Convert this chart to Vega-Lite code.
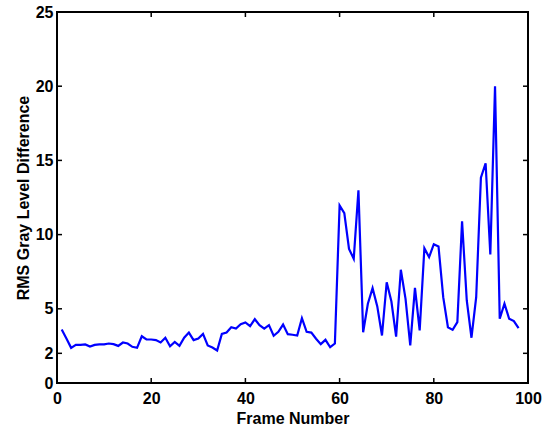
{
  "$schema": "https://vega.github.io/schema/vega-lite/v6.json",
  "width": 471,
  "height": 371,
  "autosize": "none",
  "padding": {"left": 57, "top": 12, "right": 23, "bottom": 42},
  "background": "white",
  "config": {
    "view": {"stroke": "black", "strokeWidth": 2},
    "font": "Liberation Sans",
    "axis": {
      "grid": false,
      "domain": false,
      "ticks": false,
      "labelFlush": false,
      "labelOverlap": false,
      "labelFont": "Liberation Sans",
      "labelFontWeight": "bold",
      "labelFontSize": 16,
      "labelColor": "black",
      "titleFont": "Liberation Sans",
      "titleFontWeight": "bold",
      "titleFontSize": 16,
      "titleColor": "black"
    }
  },
  "datasets": {
    "xticks": [{"v": 0}, {"v": 20}, {"v": 40}, {"v": 60}, {"v": 80}, {"v": 100}],
    "yticks": [{"v": 0}, {"v": 2}, {"v": 5}, {"v": 10}, {"v": 15}, {"v": 20}, {"v": 25}],
    "series": [
    {"frame": 1, "rms": 3.6}, {"frame": 2, "rms": 3.0}, {"frame": 3, "rms": 2.37}, {"frame": 4, "rms": 2.57},
    {"frame": 5, "rms": 2.57}, {"frame": 6, "rms": 2.6}, {"frame": 7, "rms": 2.46}, {"frame": 8, "rms": 2.57},
    {"frame": 9, "rms": 2.6}, {"frame": 10, "rms": 2.6}, {"frame": 11, "rms": 2.66}, {"frame": 12, "rms": 2.62},
    {"frame": 13, "rms": 2.5}, {"frame": 14, "rms": 2.73}, {"frame": 15, "rms": 2.66}, {"frame": 16, "rms": 2.44},
    {"frame": 17, "rms": 2.37}, {"frame": 18, "rms": 3.15}, {"frame": 19, "rms": 2.93}, {"frame": 20, "rms": 2.93},
    {"frame": 21, "rms": 2.89}, {"frame": 22, "rms": 2.73}, {"frame": 23, "rms": 3.05}, {"frame": 24, "rms": 2.47},
    {"frame": 25, "rms": 2.77}, {"frame": 26, "rms": 2.5}, {"frame": 27, "rms": 3.05}, {"frame": 28, "rms": 3.4},
    {"frame": 29, "rms": 2.89}, {"frame": 30, "rms": 3.0}, {"frame": 31, "rms": 3.31}, {"frame": 32, "rms": 2.53},
    {"frame": 33, "rms": 2.39}, {"frame": 34, "rms": 2.19}, {"frame": 35, "rms": 3.31}, {"frame": 36, "rms": 3.4},
    {"frame": 37, "rms": 3.76}, {"frame": 38, "rms": 3.67}, {"frame": 39, "rms": 3.96}, {"frame": 40, "rms": 4.08},
    {"frame": 41, "rms": 3.83}, {"frame": 42, "rms": 4.3}, {"frame": 43, "rms": 3.9}, {"frame": 44, "rms": 3.67},
    {"frame": 45, "rms": 3.9}, {"frame": 46, "rms": 3.18}, {"frame": 47, "rms": 3.45}, {"frame": 48, "rms": 3.94},
    {"frame": 49, "rms": 3.29}, {"frame": 50, "rms": 3.25}, {"frame": 51, "rms": 3.2}, {"frame": 52, "rms": 4.37},
    {"frame": 53, "rms": 3.45}, {"frame": 54, "rms": 3.4}, {"frame": 55, "rms": 2.98}, {"frame": 56, "rms": 2.62},
    {"frame": 57, "rms": 2.91}, {"frame": 58, "rms": 2.41}, {"frame": 59, "rms": 2.66}, {"frame": 60, "rms": 11.96},
    {"frame": 61, "rms": 11.44}, {"frame": 62, "rms": 9.04}, {"frame": 63, "rms": 8.37}, {"frame": 64, "rms": 12.99},
    {"frame": 65, "rms": 3.42}, {"frame": 66, "rms": 5.34}, {"frame": 67, "rms": 6.39}, {"frame": 68, "rms": 5.16},
    {"frame": 69, "rms": 3.2}, {"frame": 70, "rms": 6.79}, {"frame": 71, "rms": 5.49}, {"frame": 72, "rms": 3.13},
    {"frame": 73, "rms": 7.63}, {"frame": 74, "rms": 5.67}, {"frame": 75, "rms": 2.53}, {"frame": 76, "rms": 6.41},
    {"frame": 77, "rms": 3.54}, {"frame": 78, "rms": 9.08}, {"frame": 79, "rms": 8.48}, {"frame": 80, "rms": 9.35},
    {"frame": 81, "rms": 9.2}, {"frame": 82, "rms": 5.78}, {"frame": 83, "rms": 3.76}, {"frame": 84, "rms": 3.58},
    {"frame": 85, "rms": 4.1}, {"frame": 86, "rms": 10.9}, {"frame": 87, "rms": 5.56}, {"frame": 88, "rms": 3.05},
    {"frame": 89, "rms": 5.78}, {"frame": 90, "rms": 13.83}, {"frame": 91, "rms": 14.81}, {"frame": 92, "rms": 8.66},
    {"frame": 93, "rms": 20.0}, {"frame": 94, "rms": 4.33}, {"frame": 95, "rms": 5.34}, {"frame": 96, "rms": 4.33},
    {"frame": 97, "rms": 4.17}, {"frame": 98, "rms": 3.7}
    ]
  },
  "layer": [
    {
      "data": {"name": "series"},
      "mark": {"type": "line", "color": "#0000ff", "strokeWidth": 2.2, "clip": true},
      "encoding": {
        "x": {"field": "frame", "type": "quantitative", "scale": {"domain": [0, 100], "nice": false},
              "axis": {"orient": "bottom", "values": [0, 20, 40, 60, 80, 100], "title": "Frame Number", "labelPadding": 7, "titlePadding": 4}},
        "y": {"field": "rms", "type": "quantitative", "scale": {"domain": [0, 25], "nice": false},
              "axis": {"orient": "left", "values": [0, 2, 5, 10, 15, 20, 25], "title": "RMS Gray Level Difference", "labelPadding": 4, "titlePadding": 4}}
      }
    },
    {
      "data": {"name": "xticks"},
      "mark": {"type": "tick", "orient": "vertical", "color": "black", "thickness": 1.5, "size": 10, "clip": true, "opacity": 1},
      "encoding": {"x": {"field": "v", "type": "quantitative"}, "y": {"datum": 0}}
    },
    {
      "data": {"name": "xticks"},
      "mark": {"type": "tick", "orient": "vertical", "color": "black", "thickness": 1.5, "size": 10, "clip": true, "opacity": 1},
      "encoding": {"x": {"field": "v", "type": "quantitative"}, "y": {"datum": 25}}
    },
    {
      "data": {"name": "yticks"},
      "mark": {"type": "tick", "orient": "horizontal", "color": "black", "thickness": 1.5, "size": 10, "clip": true, "opacity": 1},
      "encoding": {"y": {"field": "v", "type": "quantitative"}, "x": {"datum": 0}}
    },
    {
      "data": {"name": "yticks"},
      "mark": {"type": "tick", "orient": "horizontal", "color": "black", "thickness": 1.5, "size": 10, "clip": true, "opacity": 1},
      "encoding": {"y": {"field": "v", "type": "quantitative"}, "x": {"datum": 100}}
    }
  ]
}
